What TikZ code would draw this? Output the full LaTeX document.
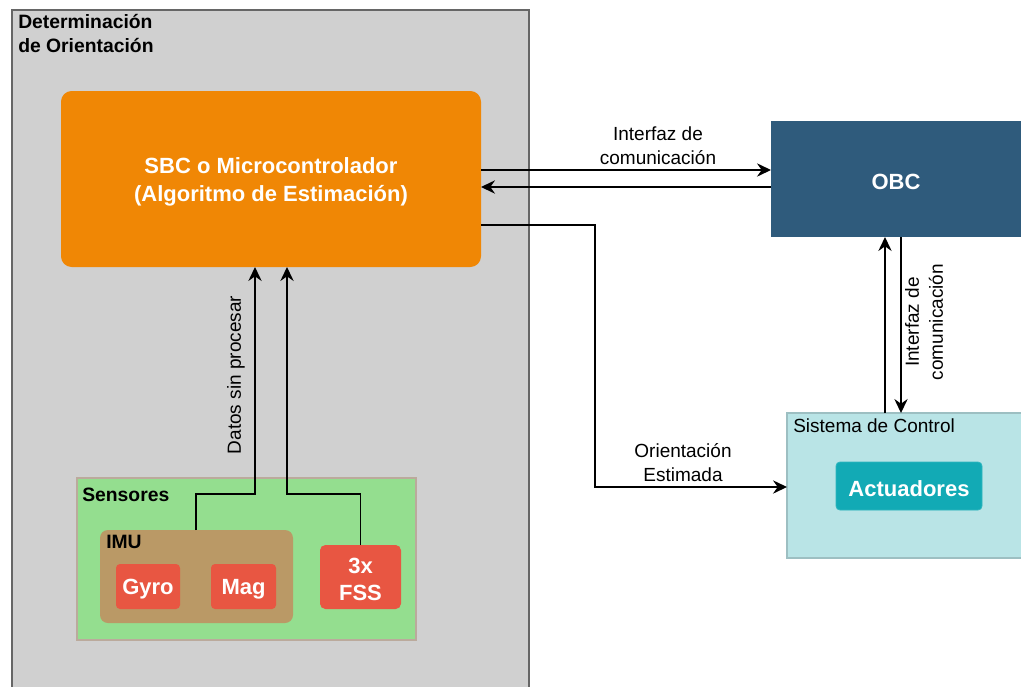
\documentclass[tikz,border=0pt]{standalone}
\usepackage{fontspec}
\setmainfont{Liberation Sans}
\usetikzlibrary{arrows.meta,fit}
\definecolor{grayfill}{HTML}{D0D0D0}
\definecolor{grayline}{HTML}{666666}
\definecolor{orangefill}{HTML}{F08705}
\definecolor{obcfill}{HTML}{2F5B7C}
\definecolor{scfill}{HTML}{B9E4E6}
\definecolor{scline}{HTML}{9DBFC2}
\definecolor{actfill}{HTML}{12AAB5}
\definecolor{actline}{HTML}{2FB6BF}
\definecolor{sensfill}{HTML}{94DE8F}
\definecolor{sensline}{HTML}{BBAA9C}
\definecolor{imufill}{HTML}{BA9966}
\definecolor{redfill}{HTML}{E85642}
\tikzset{
  small/.style={font=\fontsize{14.25}{18}\selectfont},
  smallb/.style={font=\fontsize{14.5}{18}\selectfont\bfseries},
  big/.style={font=\fontsize{16.5}{21}\selectfont\bfseries},
  box/.style={inner sep=0pt, outer sep=0pt},
  redbox/.style={box, fill=redfill, rounded corners=3pt},
  wtext/.style={text=white, big, align=center, inner sep=0pt, yshift=-2pt},
  arr/.style={line width=1.1pt, -{Stealth[length=10.5pt,width=10pt,inset=3.5pt]}},
  lbl/.style={small, align=center, inner sep=0pt},
}
\begin{document}
\begin{tikzpicture}[x=0.75pt,y=-0.75pt]
\useasboundingbox (0,0) rectangle (1021,686);
\begin{scope}
\clip (0,0) rectangle (1021,686);
% outer gray container
\node[box, draw=grayline, line width=1pt, fill=grayfill, fit={(12,10)(529,700)}] (det) {};
\node[smallb, anchor=north west, align=left, inner sep=0pt] (dettitle) at (18,14) {Determinación\\de Orientación};

% SBC
\node[box, fill=orangefill, rounded corners=8pt, fit={(61,91)(481,267)}] (sbc) {};
\node[wtext] (sbctext) at (sbc.center) {SBC o Microcontrolador\\(Algoritmo de Estimación)};

% OBC
\node[box, fill=obcfill, fit={(771,121)(1030,237)}] (obc) {};
\node[wtext] (obctext) at (896,179) {OBC};

% Sistema de Control
\node[box, draw=scline, line width=1pt, fill=scfill, fit={(787,413)(1030,558)}] (sc) {};
\node[small, anchor=west, inner sep=0pt] (sctitle) at (793,426) {Sistema de Control};
\node[box, fill=actfill, draw=actline, line width=0.6pt, rounded corners=3pt, fit={(836,462)(982,510)}] (act) {};
\node[wtext] (acttext) at (act.center) {Actuadores};

% Sensores
\node[box, draw=sensline, line width=1pt, fill=sensfill, fit={(77,478)(416,640)}] (sens) {};
\node[smallb, anchor=west, inner sep=0pt] (senstitle) at (82,495) {Sensores};
\node[box, fill=imufill, rounded corners=6pt, fit={(100,530)(293,623)}] (imu) {};
\node[smallb, anchor=west, inner sep=0pt] (imutitle) at (106,542) {IMU};
\node[redbox, fit={(116,564)(180,609)}] (gyro) {};
\node[wtext] (gyrotext) at (gyro.center) {Gyro};
\node[redbox, fit={(211,564)(276,609)}] (mag) {};
\node[wtext] (magtext) at (mag.center) {Mag};
\node[redbox, rounded corners=4pt, fit={(320,545)(401,609)}] (fss) {};
\node[wtext, font=\fontsize{16.5}{20}\selectfont\bfseries] (fsstext) at (fss.center) {3x\\FSS};
\end{scope}

% SBC <-> OBC
\draw[arr] (sbc.east |- 0,170) -- (obc.west |- 0,170);
\draw[arr] (obc.west |- 0,187) -- (sbc.east |- 0,187);
\node[lbl] (lbl1) at (658,146) {Interfaz de\\comunicación};

% SBC -> Sistema de Control
\draw[arr] (sbc.east |- 0,225) -- ++(114,0) |- (sc.west |- 0,487);
\node[lbl] (lbl2) at (683,463) {Orientación\\Estimada};

% OBC <-> Sistema de Control
\draw[arr] (sc.north -| 885,0) -- (obc.south -| 885,0);
\draw[arr] (obc.south -| 901,241) -- (sc.north -| 901,0);
\node[lbl, rotate=90] (lbl3) at (924,322) {Interfaz de\\comunicación};

% Sensors -> SBC
\draw[arr] (imu.north -| 196,0) -- ++(0,-36) -| (sbc.south -| 255,0);
\draw[arr] (fss.north) -- ++(0,-51) -| (sbc.south -| 287,0);
\node[lbl, rotate=90] (lbl4) at (236,375) {Datos sin procesar};
\end{tikzpicture}
\end{document}
